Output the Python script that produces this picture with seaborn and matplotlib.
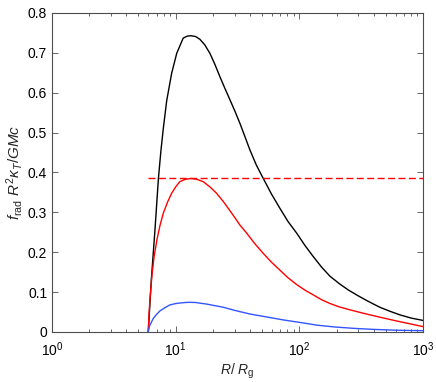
import matplotlib
matplotlib.use('Agg')
import matplotlib.pyplot as plt
import numpy as np
import pandas as pd
import seaborn as sns
from matplotlib.ticker import LogLocator, NullFormatter

# values (R in units of R_g)
r_black = [6.0, 6.35, 6.8, 7.25, 7.6, 7.94, 8.46, 9.28, 10.2, 11.5, 12.4, 13.3, 14.5, 15.7,
           17.2, 18.9, 20.7, 22.8, 25.0, 27.5, 30.2, 33.1, 36.3, 39.9, 45.0, 51.1, 59.5,
           69.7, 81.0, 95.1, 111, 129.7, 151, 176.7, 213, 250, 298, 360, 448, 540, 650, 800, 1000]
v_black = [0.0, 0.13, 0.256, 0.385, 0.455, 0.51, 0.58, 0.649, 0.699, 0.737, 0.742, 0.743, 0.741, 0.734,
           0.72, 0.699, 0.672, 0.640, 0.611, 0.582, 0.553, 0.523, 0.49, 0.456, 0.418, 0.385, 0.346,
           0.310, 0.277, 0.248, 0.217, 0.189, 0.163, 0.140, 0.120, 0.105, 0.091, 0.077, 0.062, 0.052,
           0.043, 0.035, 0.029]

r_red = [6.0, 6.1, 6.22, 6.45, 6.7, 7.05, 7.45, 7.94, 8.6, 9.28, 10.0, 10.8, 12.0, 13.3, 14.8,
         16.7, 18.9, 21.4, 24.3, 27.5, 30.2, 33.1, 37.5, 43.5, 51.1, 59.5, 69.7, 81.0, 95.1,
         111, 129.7, 151, 176.7, 210, 250, 329, 450, 612, 800, 1000]
v_red = [0.0, 0.05, 0.089, 0.147, 0.19, 0.231, 0.266, 0.298, 0.326, 0.348, 0.364, 0.377, 0.383,
         0.385, 0.383, 0.377, 0.364, 0.348, 0.327, 0.304, 0.286, 0.268, 0.248, 0.222, 0.197, 0.175,
         0.155, 0.136, 0.119, 0.105, 0.093, 0.081, 0.0715, 0.063, 0.0565, 0.047, 0.037, 0.0276, 0.020,
         0.0135]

r_blue = [6.0, 6.12, 6.3, 6.59, 7.0, 7.47, 8.2, 8.99, 9.9, 10.8, 12.0, 13.0, 14.5, 16.0, 17.8,
          20.8, 24.3, 30.2, 40.0, 56.1, 75.0, 104, 140, 194, 280, 400, 600, 1000]
v_blue = [0.0, 0.0133, 0.022, 0.034, 0.044, 0.053, 0.061, 0.068, 0.071, 0.0727, 0.074, 0.0744,
          0.074, 0.072, 0.070, 0.066, 0.062, 0.054, 0.045, 0.037, 0.030, 0.0234, 0.017, 0.0125,
          0.009, 0.0065, 0.0045, 0.0033]

r_limit = [6.0, 1000]
v_limit = [0.385, 0.385]

y_ticks = [0, 0.1, 0.2, 0.3, 0.4, 0.5, 0.6, 0.7, 0.8]
y_ticklabels = ['0', '0.1', '0.2', '0.3', '0.4', '0.5', '0.6', '0.7', '0.8']

sns.set_style('ticks')
plt.rcParams['font.family'] = ['Liberation Sans', 'DejaVu Sans']
plt.rcParams['mathtext.fontset'] = 'custom'
plt.rcParams['mathtext.rm'] = 'Liberation Sans'
plt.rcParams['mathtext.it'] = 'Liberation Sans:italic'
plt.rcParams['mathtext.default'] = 'it'
axis_col = '0.3'

fig = plt.figure(figsize=(4.36, 3.82), dpi=100)
ax = fig.add_axes([0.1193, 0.1309, 0.8509, 0.8351])

curves = [(r_black, v_black, 'black'),
          (r_red, v_red, '#ff0000'),
          (r_blue, v_blue, '#3355ff')]
for r, v, col in curves:
    df = pd.DataFrame({'R': r, 'v': v})
    sns.lineplot(data=df, x='R', y='v', ax=ax, color=col,
                 linewidth=1.0, estimator=None, sort=False)

# radiation limit
df_lim = pd.DataFrame({'R': r_limit, 'v': v_limit})
sns.lineplot(data=df_lim, x='R', y='v', ax=ax, color='#ff0000', linewidth=1.0,
             dashes=False, estimator=None, sort=False)
ax.lines[-1].set_dashes((5, 2.5))

ax.set_xscale('log')
ax.set_xlim(1, 1000)
ax.set_ylim(0, 0.8)
ax.set_yticks(y_ticks)
ax.set_yticklabels(y_ticklabels)
ax.xaxis.set_major_locator(LogLocator(base=10, numticks=10))
ax.xaxis.set_minor_locator(LogLocator(base=10, subs=np.arange(2, 10), numticks=10))
ax.xaxis.set_minor_formatter(NullFormatter())

ax.tick_params(which='both', direction='in', top=True, right=True, colors=axis_col,
               labelcolor='black', labelsize=10)
ax.tick_params(which='major', length=4, width=0.6)
ax.tick_params(which='minor', length=2, width=0.6)
ax.tick_params(axis='x', which='major', pad=6)
for s in ax.spines.values():
    s.set_color(axis_col)
    s.set_linewidth(0.8)

ax.set_xlabel(r'$R$/ $R_{\rm g}$', fontsize=10, labelpad=2)
ax.set_ylabel(r'$f_{\rm rad}\ R^2\kappa_T/GMc$', fontsize=11, labelpad=2)

fig.savefig('out.png', dpi=100)
